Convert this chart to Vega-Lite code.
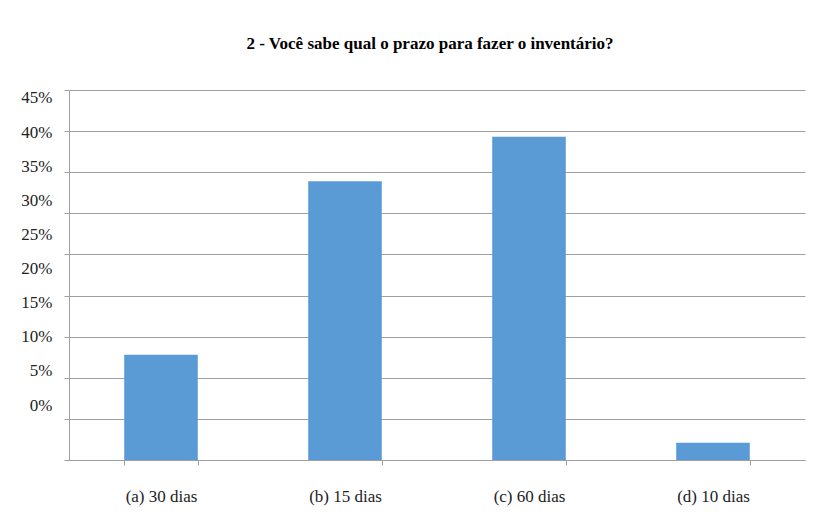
{
  "$schema": "https://vega.github.io/schema/vega-lite/v6.json",
  "width": 736,
  "height": 370,
  "autosize": {"type": "none"},
  "padding": {"left": 69, "top": 90, "right": 26, "bottom": 58},
  "background": "white",
  "title": {
    "text": "2 - Você sabe qual o prazo para fazer o inventário?",
    "font": "Liberation Serif",
    "fontSize": 17,
    "fontWeight": "bold",
    "color": "#000000",
    "anchor": "middle",
    "frame": "group",
    "dx": -7,
    "offset": 36
  },
  "config": {
    "view": {"stroke": null},
    "axis": {"labelFont": "Liberation Serif", "labelColor": "#222222"}
  },
  "data": {
    "values": [
      {"opcao": "(a) 30 dias", "pct": 12.8},
      {"opcao": "(b) 15 dias", "pct": 33.9},
      {"opcao": "(c) 60 dias", "pct": 39.3},
      {"opcao": "(d) 10 dias", "pct": 2.1}
    ]
  },
  "layer": [
    {
      "mark": {"type": "bar", "color": "#5B9BD5"},
      "encoding": {
        "x": {
          "field": "opcao",
          "type": "nominal",
          "sort": null,
          "scale": {"paddingInner": 0.6, "paddingOuter": 0.3},
          "axis": {
            "title": null,
            "labelAngle": 0,
            "labelFontSize": 17,
            "tickBand": "extent",
            "tickSize": 5,
            "tickColor": "#a0a0a0",
            "domainColor": "#a0a0a0",
            "labelPadding": 23
          }
        },
        "y": {
          "field": "pct",
          "type": "quantitative",
          "scale": {"domain": [0, 45], "nice": false},
          "axis": {
            "title": null,
            "labels": false,
            "grid": true,
            "gridColor": "#a0a0a0",
            "values": [0, 5, 10, 15, 20, 25, 30, 35, 40, 45],
            "tickSize": 5,
            "tickColor": "#a0a0a0",
            "domainColor": "#a0a0a0"
          }
        }
      }
    },
    {
      "mark": {"type": "point", "opacity": 0},
      "encoding": {
        "y": {
          "field": "pct",
          "type": "quantitative",
          "scale": {"domain": [-8.06, 46.17], "nice": false, "zero": false},
          "axis": {
            "title": null,
            "orient": "left",
            "values": [0, 5, 10, 15, 20, 25, 30, 35, 40, 45],
            "labelExpr": "datum.value + '%'",
            "labelFontSize": 17,
            "ticks": false,
            "domain": false,
            "grid": false,
            "labelPadding": 17
          }
        }
      }
    }
  ],
  "resolve": {"scale": {"y": "independent"}, "axis": {"y": "independent"}}
}
